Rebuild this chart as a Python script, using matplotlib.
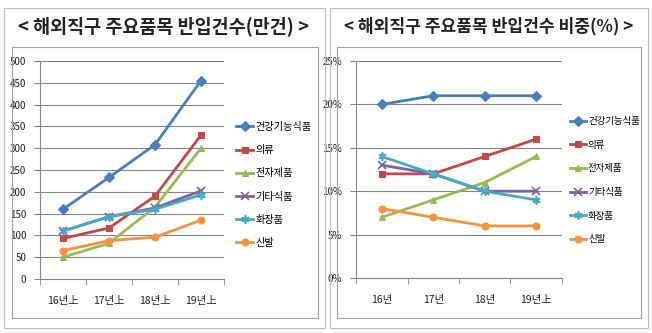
import matplotlib
matplotlib.use("Agg")
import matplotlib.pyplot as plt
from matplotlib.patches import Rectangle

plt.rcParams['font.family'] = ['Noto Sans CJK KR', 'DejaVu Sans']

series = ["건강기능식품", "의류", "전자제품", "기타식품", "화장품", "신발"]
colors = ["#4A7EBB", "#BE4B48", "#98B954", "#7D60A0", "#46AAC5", "#F69240"]
markers = ["D", "s", "^", "x", (6, 2, 0), "o"]

left_cats = ["16년上", "17년上", "18년上", "19년上"]
left_vals = [
    [160, 233, 308, 455],
    [93, 117, 190, 330],
    [50, 82, 165, 300],
    [110, 143, 163, 202],
    [110, 143, 160, 193],
    [65, 88, 96, 135],
]

right_cats = ["16년", "17년", "18년", "19년上"]
right_vals = [
    [20, 21, 21, 21],
    [12, 12, 14, 16],
    [7, 9, 11, 14],
    [13, 12, 10, 10],
    [14, 12, 10, 9],
    [8, 7, 6, 6],
]

W, H = 652, 333
fig = plt.figure(figsize=(W / 100, H / 100), dpi=100)


def px(x0, y0, x1, y1):
    # pixel box (top-left origin) -> figure fraction rect
    return [x0 / W, 1 - y1 / H, (x1 - x0) / W, (y1 - y0) / H]


def box(x0, y0, x1, y1, col="#A6A6A6", lw=0.8):
    r = Rectangle((x0 / W, 1 - y1 / H), (x1 - x0) / W, (y1 - y0) / H,
                  transform=fig.transFigure, fill=False, edgecolor=col, linewidth=lw)
    fig.patches.append(r)


# outer frames and chart frames
box(4, 8, 325, 328, col="#BFBFBF")
box(330, 8, 648, 328, col="#BFBFBF")
box(12, 47, 318, 318, col="#A0A0A0")
box(337, 47, 641, 318, col="#A0A0A0")

fig.text(164 / W, 1 - 26 / H, "< 해외직구 주요품목 반입건수(만건) >", ha="center", va="center",
         fontsize=13.3, fontweight="bold", color="#222222")
fig.text(489 / W, 1 - 26 / H, "< 해외직구 주요품목 반입건수 비중(%) >", ha="center", va="center",
         fontsize=12.3, fontweight="bold", color="#222222")


def draw(ax, cats, vals, ymax, step, fmt, leg_x, leg_y, leg_fs, leg_sp):
    x = list(range(len(cats)))
    for name, v, c, m in zip(series, vals, colors, markers):
        ms = 6 if m in ("x",) or isinstance(m, tuple) else 5
        ax.plot(x, v, color=c, linewidth=2, marker=m, markersize=ms,
                markeredgecolor=c, markeredgewidth=1.2 if ms == 6 else 0.8, label=name)
    ax.set_xlim(-0.5, len(cats) - 0.5)
    ax.set_ylim(0, ymax)
    ax.set_yticks(range(0, ymax + 1, step))
    ax.set_yticklabels([fmt(t) for t in range(0, ymax + 1, step)])
    ax.set_xticks(x)
    ax.set_xticklabels(cats)
    ax.set_xticks([i - 0.5 for i in range(len(cats) + 1)], minor=True)
    ax.tick_params(axis="x", which="major", length=0, pad=12, labelsize=7.5, colors="#222222")
    ax.tick_params(axis="x", which="minor", length=4, color="#868686")
    ax.tick_params(axis="y", length=4, color="#868686", labelsize=7, colors="#222222", pad=6)
    ax.grid(axis="y", color="#868686", linewidth=0.8)
    ax.set_axisbelow(True)
    for s in ("top", "right"):
        ax.spines[s].set_visible(False)
    for s in ("left", "bottom"):
        ax.spines[s].set_color("#868686")
    ax.legend(loc="upper left", bbox_to_anchor=(leg_x / W, 1 - leg_y / H),
              bbox_transform=fig.transFigure, frameon=False, fontsize=leg_fs,
              handlelength=1.7, handletextpad=0.2, labelspacing=leg_sp, borderpad=0,
              borderaxespad=0)


axl = fig.add_axes(px(40, 61, 224, 279))
draw(axl, left_cats, left_vals, 500, 50, lambda t: str(t), 236, 122, 7.3, 1.3)

axr = fig.add_axes(px(356, 61, 562, 278))
draw(axr, right_cats, right_vals, 25, 5, lambda t: f"{t}%", 570, 117, 6.8, 1.55)

fig.savefig("out.png", dpi=100)
